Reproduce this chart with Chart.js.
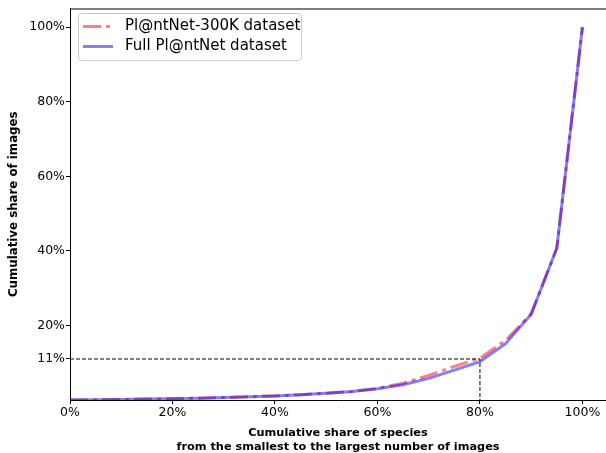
<!DOCTYPE html>
<html>
<head>
<meta charset="utf-8">
<script src="https://cdn.jsdelivr.net/npm/chart.js@4"></script>
<style>
html,body{margin:0;padding:0;background:#fff;}
#wrap{width:606px;height:453px;position:relative;}
</style>
</head>
<body>
<div id="wrap"><canvas id="c" width="606" height="453"></canvas></div>
<script>
// Data
const speciesShare = [0,5,10,15,20,25,30,35,40,45,50,55,60,65,70,75,80,85,90,95,100];
const fullDataset  = [0,0.05,0.15,0.25,0.35,0.5,0.65,0.85,1.1,1.4,1.8,2.3,3.0,4.1,5.8,8.0,10.3,15.1,23.0,40.7,100];
const p300kDataset = [0,0.05,0.15,0.25,0.35,0.5,0.65,0.85,1.1,1.4,1.8,2.3,3.1,4.5,6.6,9.0,11.2,16.0,23.1,40.7,100];
const seriesNames  = ['Pl@ntNet-300K dataset', 'Full Pl@ntNet dataset'];
const refX = [0, 80, 80];
const refY = [11, 11, 0];
const xTicks = [0,20,40,60,80,100];
const yTicks = [11,20,40,60,80,100];

const FONT = "'DejaVu Sans', sans-serif";
const RED = 'rgba(255,0,0,0.5)';
const BLUE = 'rgba(0,0,255,0.5)';
const RED_DASH = [18,5,4,5];

const pts = (xs, ys) => xs.map((x,i)=>({x, y: ys[i]}));

const framePlugin = {
  id: 'frame',
  afterDatasetsDraw(chart) {
    const {ctx, chartArea: a} = chart;
    ctx.save();
    ctx.strokeStyle = '#000';
    ctx.lineWidth = 1;
    ctx.beginPath();
    ctx.moveTo(a.left, a.top + 0.5);
    ctx.lineTo(a.right, a.top + 0.5);
    ctx.stroke();
    ctx.restore();
  },
  afterDraw(chart) {
    const {ctx} = chart;
    ctx.save();
    // legend box
    const bx = 78.5, by = 13.5, bw = 223, bh = 47, r = 3;
    ctx.fillStyle = 'rgba(255,255,255,0.8)';
    ctx.strokeStyle = '#cccccc';
    ctx.lineWidth = 1;
    ctx.beginPath();
    ctx.moveTo(bx + r, by);
    ctx.lineTo(bx + bw - r, by);
    ctx.arcTo(bx + bw, by, bx + bw, by + r, r);
    ctx.lineTo(bx + bw, by + bh - r);
    ctx.arcTo(bx + bw, by + bh, bx + bw - r, by + bh, r);
    ctx.lineTo(bx + r, by + bh);
    ctx.arcTo(bx, by + bh, bx, by + bh - r, r);
    ctx.lineTo(bx, by + r);
    ctx.arcTo(bx, by, bx + r, by, r);
    ctx.closePath();
    ctx.fill();
    ctx.stroke();
    const rows = [
      {y: 26.5, color: RED, dash: RED_DASH, text: seriesNames[0]},
      {y: 46.5, color: BLUE, dash: [], text: seriesNames[1]}
    ];
    rows.forEach(rw => {
      ctx.strokeStyle = rw.color;
      ctx.lineWidth = 3;
      ctx.lineCap = 'butt';
      ctx.setLineDash(rw.dash);
      ctx.beginPath();
      ctx.moveTo(83, rw.y);
      ctx.lineTo(113, rw.y);
      ctx.stroke();
      ctx.setLineDash([]);
      ctx.fillStyle = '#000';
      ctx.font = '15px ' + FONT;
      ctx.textBaseline = 'middle';
      ctx.textAlign = 'left';
      ctx.fillText(rw.text, 125, rw.y);
    });
    ctx.restore();
  }
};

new Chart(document.getElementById('c'), {
  type: 'line',
  data: {
    datasets: [
      {
        label: seriesNames[0],
        data: pts(speciesShare, p300kDataset),
        borderColor: RED,
        borderWidth: 3,
        borderDash: RED_DASH,
        borderCapStyle: 'butt',
        pointRadius: 0,
        tension: 0,
        fill: false,
        order: 1
      },
      {
        label: seriesNames[1],
        data: pts(speciesShare, fullDataset),
        borderColor: BLUE,
        borderWidth: 3,
        pointRadius: 0,
        tension: 0,
        fill: false,
        order: 0
      },
      {
        label: 'ref',
        data: pts(refX, refY),
        borderColor: '#000',
        borderWidth: 1,
        borderDash: [4,2],
        pointRadius: 0,
        tension: 0,
        fill: false,
        order: -1
      }
    ]
  },
  options: {
    responsive: false,
    animation: false,
    devicePixelRatio: 1,
    layout: {padding: {top: 6, right: 0, bottom: 0, left: 0}},
    plugins: {legend: {display: false}, tooltip: {enabled: false}},
    scales: {
      x: {
        type: 'linear',
        min: 0,
        max: 104.6,
        afterBuildTicks: s => { s.ticks = xTicks.map(v => ({value: v})); },
        afterFit: s => { s.height = 53; },
        border: {color: '#000', width: 1},
        grid: {drawOnChartArea: false, drawTicks: true, tickLength: 4, tickColor: '#000'},
        ticks: {
          color: '#000', padding: 1, maxRotation: 0, autoSkip: false,
          font: {family: FONT, size: 12.5},
          callback: v => v + '%'
        },
        title: {
          display: true,
          text: ['Cumulative share of species', 'from the smallest to the largest number of images'],
          color: '#000',
          font: {family: FONT, size: 11.3, weight: 'bold', lineHeight: 1.24},
          padding: {top: 0, bottom: -1.5}
        }
      },
      y: {
        type: 'linear',
        min: 0,
        max: 105,
        afterBuildTicks: s => { s.ticks = yTicks.map(v => ({value: v})); },
        afterFit: s => { s.width = 70; },
        border: {color: '#000', width: 1},
        grid: {drawOnChartArea: false, drawTicks: true, tickLength: 4, tickColor: '#000'},
        ticks: {
          color: '#000', padding: 1, autoSkip: false,
          font: {family: FONT, size: 12.5},
          callback: v => v + '%'
        },
        title: {
          display: true,
          text: 'Cumulative share of images',
          color: '#000',
          font: {family: FONT, size: 11.8, weight: 'bold', lineHeight: 1.27},
          padding: {top: 6, bottom: 0}
        }
      }
    }
  },
  plugins: [framePlugin]
});
</script>
</body>
</html>
